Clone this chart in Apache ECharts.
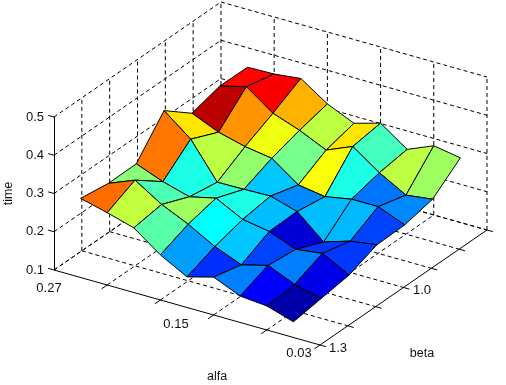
<!DOCTYPE html>
<html lang="en">
<head>
	<meta charset="UTF-8">
	<title>time surface</title>
	<style>
		body, div {
			margin: 0;
			padding: 0;
		}
		#main {
			width: 506px;
			height: 385px;
		}
	</style>
</head>
<body>
	<div id="main"></div>

	<script src="https://cdn.jsdelivr.net/npm/echarts@6/dist/echarts.min.js"></script>

	<script>
	// tick labels
	var alfaLabels = ['0.27', '0.15', '0.03'];
	var betaLabels = ['1.0', '1.3'];
	var timeTicks = [0.1, 0.2, 0.3, 0.4, 0.5];

	// axis divisions, the surface sits on steps 1..9 of alfa and 0..6 of beta
	var alfaTicks = [0, 2, 4, 6, 8, 10];
	var betaTicks = [0, 1, 2, 3, 4, 5, 6];
	var alfaSteps = [1, 2, 3, 4, 5, 6, 7, 8, 9];

	// surface height, one row per alfa step
	var time1 = [0.307, 0.296, 0.297, 0.386, 0.329, 0.350, 0.349];
	var time2 = [0.289, 0.324, 0.270, 0.331, 0.299, 0.368, 0.351];
	var time3 = [0.269, 0.280, 0.250, 0.238, 0.281, 0.318, 0.359];
	var time4 = [0.218, 0.248, 0.266, 0.239, 0.270, 0.293, 0.312];
	var time5 = [0.180, 0.209, 0.230, 0.241, 0.220, 0.261, 0.281];
	var time6 = [0.199, 0.181, 0.218, 0.220, 0.209, 0.290, 0.301];
	var time7 = [0.169, 0.199, 0.191, 0.160, 0.222, 0.241, 0.252];
	var time8 = [0.163, 0.169, 0.200, 0.182, 0.222, 0.202, 0.281];
	var time9 = [0.141, 0.152, 0.163, 0.192, 0.194, 0.211, 0.269];
	var timeRows = [time1, time2, time3, time4, time5, time6, time7, time8, time9];

	// colour level of every cell, 0..1 on the jet scale
	var level1 = [0.77, 0.51, 0.76, 0.65, 0.94, 0.87];
	var level2 = [0.565, 0.45, 0.40, 0.56, 0.73, 0.88];
	var level3 = [0.46, 0.53, 0.41, 0.52, 0.61, 0.70];
	var level4 = [0.28, 0.375, 0.40, 0.32, 0.49, 0.56];
	var level5 = [0.17, 0.32, 0.31, 0.26, 0.62, 0.65];
	var level6 = [0.25, 0.19, 0.08, 0.31, 0.40, 0.44];
	var level7 = [0.125, 0.25, 0.18, 0.305, 0.24, 0.56];
	var level8 = [0.03, 0.10, 0.18, 0.19, 0.26, 0.53];
	var levelRows = [level1, level2, level3, level4, level5, level6, level7, level8];

	var jet = ['#00008f', '#0000ff', '#0080ff', '#00ffff', '#80ff80', '#ffff00', '#ff8000', '#ff0000', '#800000'];

	// oblique view: alfa step and beta step as offsets on the flat axes
	var viewAlfaX = 26.6, viewBetaX = 27.83;
	var viewAlfaY = 0.0196, viewBetaY = 0.0501;

	function project(a, b, t) {
		return [viewAlfaX * a + viewBetaX * b, t - viewAlfaY * a + viewBetaY * b];
	}

	// box: walls and floor dashed, front edges solid
	var wire = [];
	function seg(a1, b1, t1, a2, b2, t2, solid) {
		var p = project(a1, b1, t1), q = project(a2, b2, t2);
		wire.push([p[0], p[1], q[0], q[1], solid]);
	}
	var tMin = timeTicks[0], tMax = timeTicks[timeTicks.length - 1];
	betaTicks.forEach(function (b) {
		if (b > 0) seg(0, b, tMin, 0, b, tMax, 0);
		if (b > 0 && b < 6) seg(0, b, tMin, 10, b, tMin, 0);
		seg(10, b, tMin, 10.22, b, tMin, 1);
	});
	alfaTicks.forEach(function (a) {
		if (a > 0) seg(a, 6, tMin, a, 6, tMax, 0);
		if (a < 10) seg(a, 0, tMin, a, 6, tMin, 0);
		if (a > 0) seg(a, 0, tMin, a, -0.2, tMin, 1);
	});
	timeTicks.forEach(function (t) {
		seg(0, 0, t, 0, 6, t, 0);
		seg(0, 6, t, 10, 6, t, 0);
		seg(0, 0, t, -0.22, 0, t, 1);
	});
	seg(0, 6, tMin, 10, 6, tMin, 0);
	seg(0, 0, tMin, 10, 0, tMin, 1);
	seg(10, 0, tMin, 10, 6, tMin, 1);

	// cells go back to front so the nearer ones cover the farther ones
	var cells = [];
	for (var i = 0; i < levelRows.length; i++) {
		for (var j = levelRows[i].length - 1; j >= 0; j--) {
			var a = alfaSteps[i], next = alfaSteps[i + 1];
			var c1 = project(a, j, timeRows[i][j]);
			var c2 = project(a, j + 1, timeRows[i][j + 1]);
			var c3 = project(next, j + 1, timeRows[i + 1][j + 1]);
			var c4 = project(next, j, timeRows[i + 1][j]);
			cells.push([c1[0], c1[1], c2[0], c2[1], c3[0], c3[1], c4[0], c4[1], levelRows[i][j]]);
		}
	}

	var font = 'Liberation Sans';
	function label(text, x, y, size) {
		return {
			type: 'text', x: x, y: y, silent: true,
			style: { text: text, fill: '#111', font: size + 'px "' + font + '"', align: 'center', verticalAlign: 'middle' }
		};
	}

	var myEcharts = echarts.init(document.getElementById('main'));

	myEcharts.setOption({
		animation: false,
		backgroundColor: '#fff',
		grid: { left: 54, top: 117, width: 434, height: 153, outerBoundsMode: 'none' },
		xAxis: { type: 'value', min: 0, max: 434, show: false },
		yAxis: {
			type: 'value', min: tMin, max: tMax, interval: 0.1,
			name: 'time', nameLocation: 'middle', nameGap: 38,
			nameTextStyle: { color: '#111', fontFamily: font, fontSize: 12.5 },
			splitLine: { show: false },
			axisTick: { show: false },
			axisLine: { show: true, lineStyle: { color: '#000', width: 1 } },
			axisLabel: { color: '#111', fontFamily: font, fontSize: 13, margin: 10, formatter: function (v) { return v.toFixed(1); } }
		},
		visualMap: { show: false, type: 'continuous', min: 0, max: 1, seriesIndex: 1, dimension: 8, inRange: { color: jet } },
		series: [
			{
				type: 'custom',
				silent: true,
				data: wire,
				renderItem: function (params, api) {
					var p = api.coord([api.value(0), api.value(1)]);
					var q = api.coord([api.value(2), api.value(3)]);
					return {
						type: 'line',
						shape: { x1: p[0], y1: p[1], x2: q[0], y2: q[1] },
						style: { stroke: '#000', lineWidth: 1, lineDash: api.value(4) ? null : [4, 3] }
					};
				}
			},
			{
				type: 'custom',
				silent: true,
				data: cells,
				renderItem: function (params, api) {
					var pts = [];
					for (var k = 0; k < 4; k++) {
						pts.push(api.coord([api.value(2 * k), api.value(2 * k + 1)]));
					}
					return {
						type: 'polygon',
						shape: { points: pts },
						style: { fill: api.visual('color'), stroke: '#000', lineWidth: 1 }
					};
				}
			}
		],
		graphic: [
			label(alfaLabels[0], 49, 288, 13),
			label(alfaLabels[1], 176, 324, 13),
			label(alfaLabels[2], 299, 353, 13),
			label(betaLabels[0], 422, 290, 13),
			label(betaLabels[1], 338, 348, 13),
			label('alfa', 217, 377, 12.5),
			label('beta', 422, 354, 12.5)
		]
	});
	</script>

</body>
</html>
